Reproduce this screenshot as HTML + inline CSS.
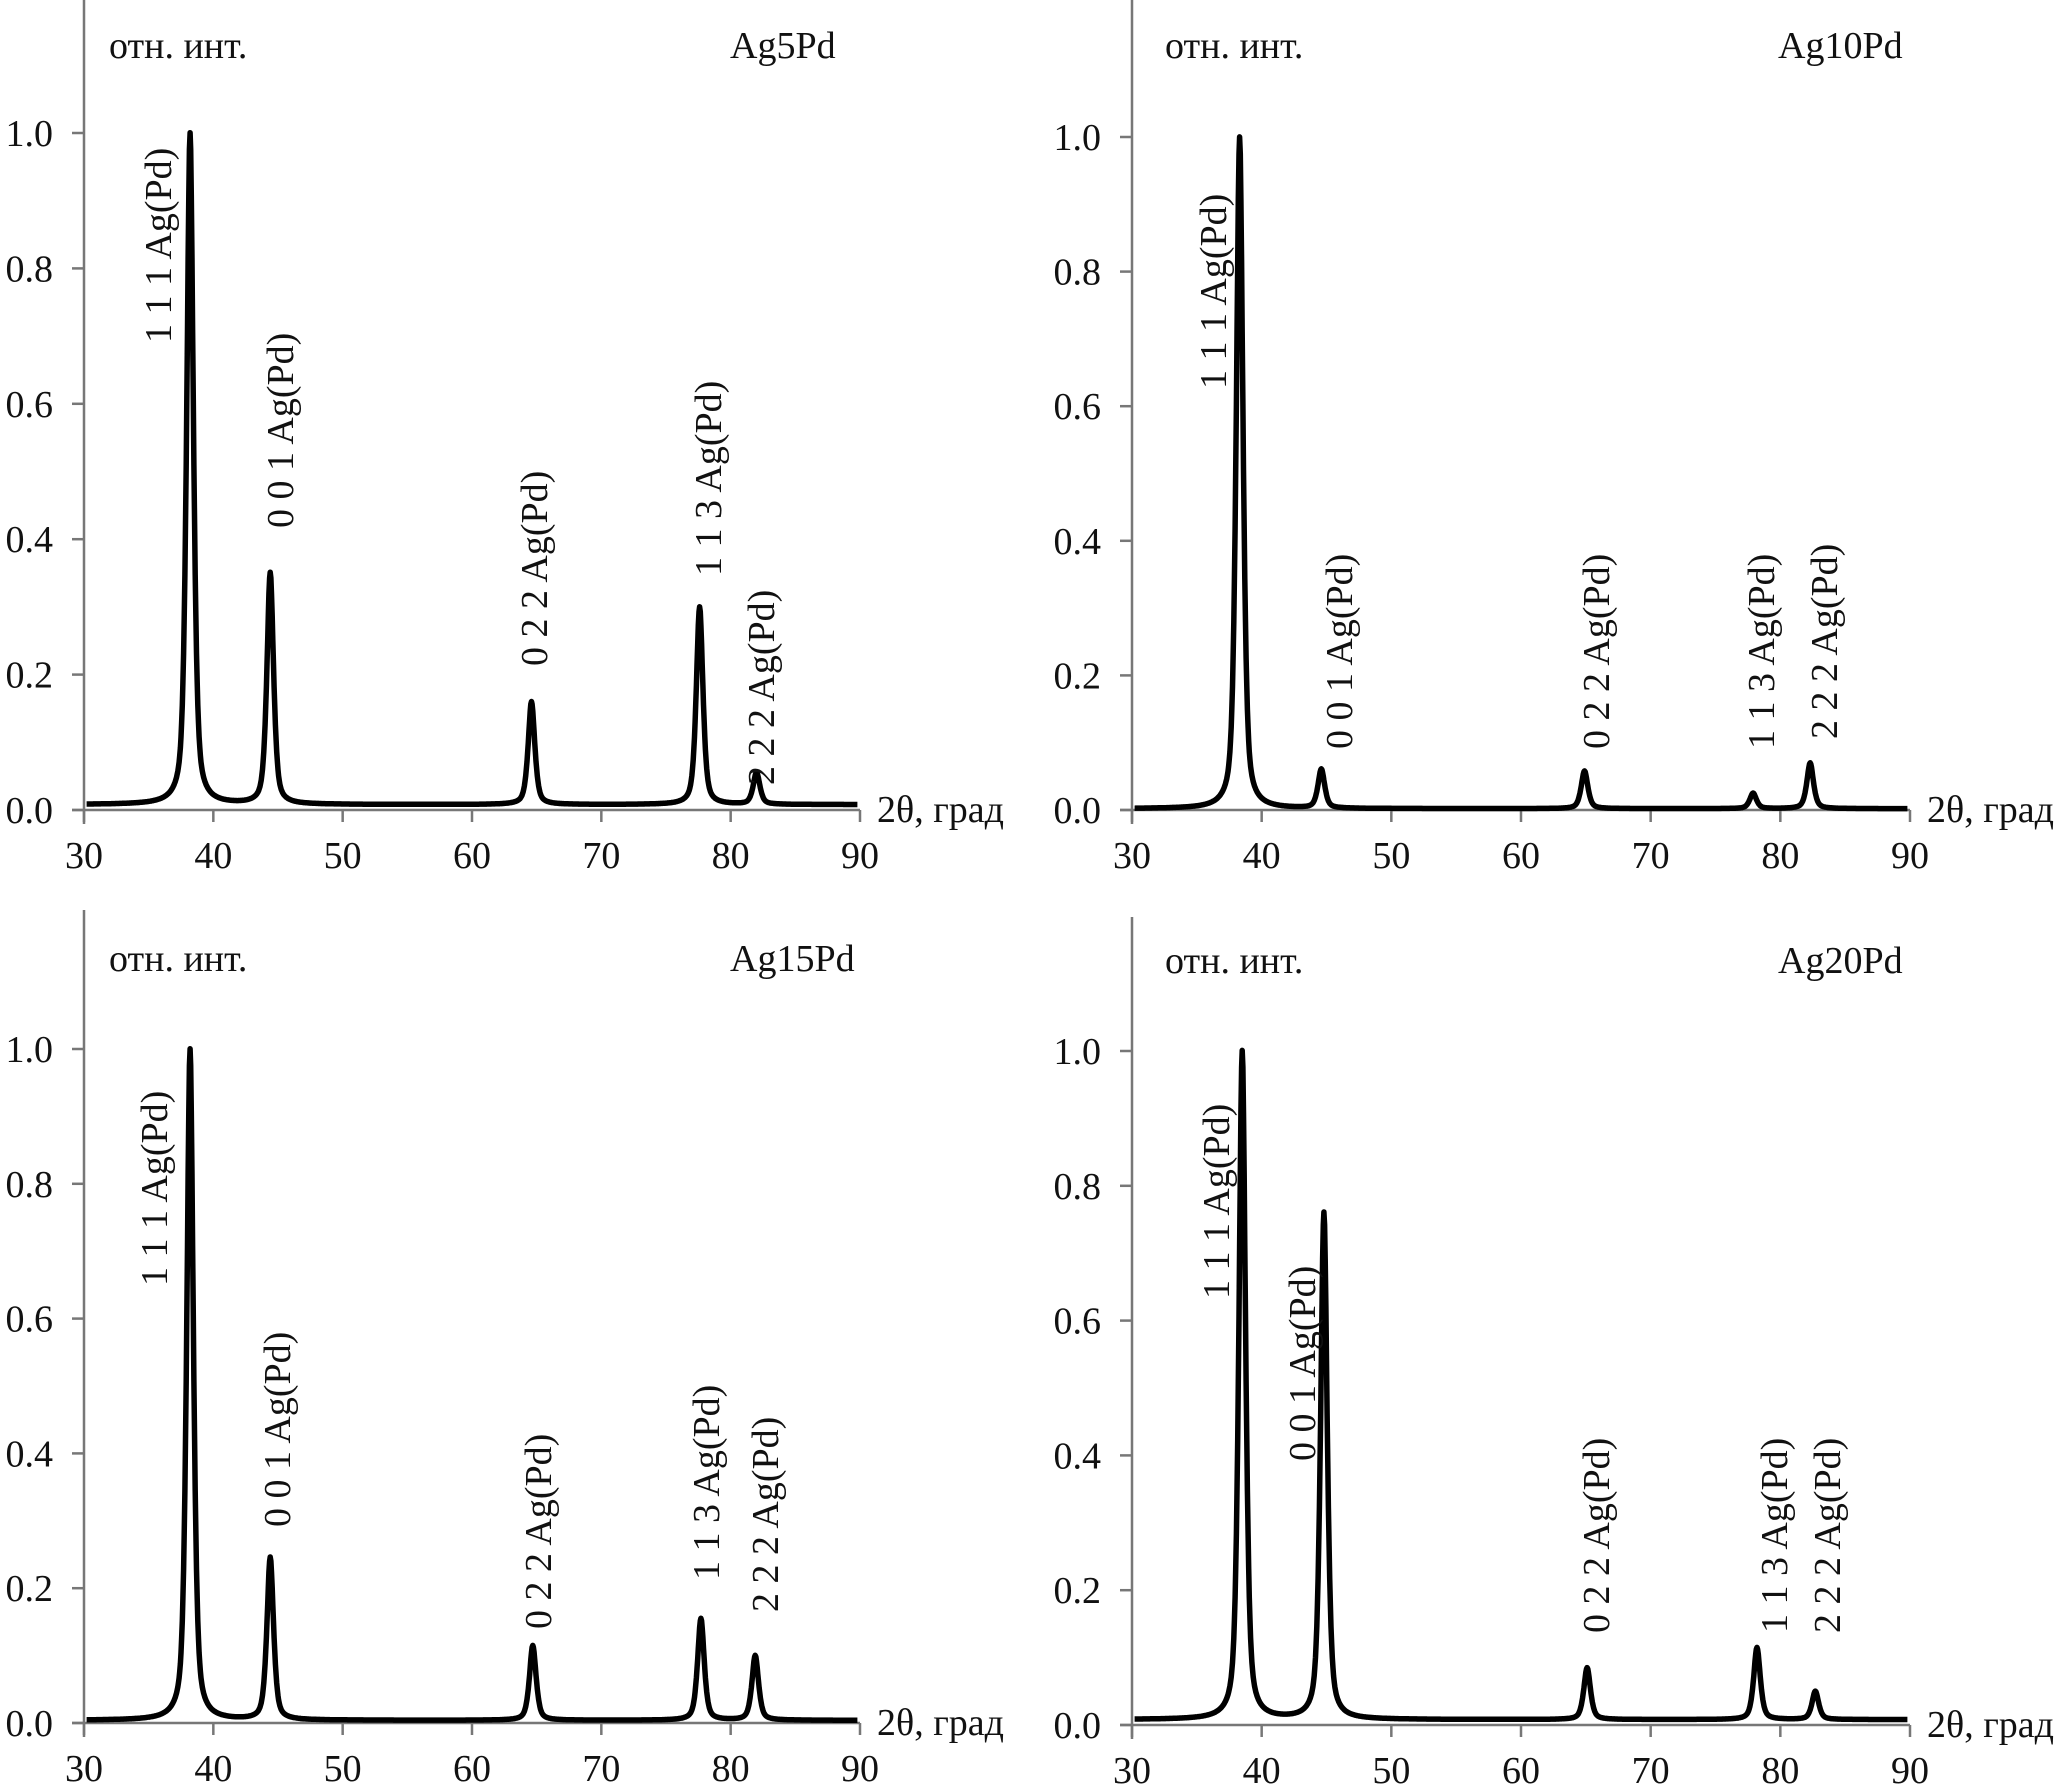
<!DOCTYPE html>
<html><head><meta charset="utf-8"><style>
html,body{margin:0;padding:0;background:#fff;}
svg{display:block;font-family:"Liberation Serif",serif;}
</style></head><body>
<svg id="fig" width="2068" height="1791" viewBox="0 0 2068 1791"></svg>
<script>
// ---- data ----
const xTicks = [30,40,50,60,70,80,90];
const yTicks = [0.0,0.2,0.4,0.6,0.8,1.0];
const yTickLabels = ["0.0","0.2","0.4","0.6","0.8","1.0"];
const panelTitles = ["Ag5Pd","Ag10Pd","Ag15Pd","Ag20Pd"];
const peakLabels = ["1 1 1 Ag(Pd)","0 0 1 Ag(Pd)","0 2 2 Ag(Pd)","1 1 3 Ag(Pd)","2 2 2 Ag(Pd)"];
const peakPosAg5 = [38.2,44.4,64.6,77.6,82.0];
const peakHtAg5 = [1.0,0.35,0.16,0.30,0.055];
const peakPosAg10 = [38.3,44.6,64.9,77.9,82.3];
const peakHtAg10 = [1.0,0.06,0.058,0.025,0.07];
const peakPosAg15 = [38.2,44.4,64.7,77.7,81.9];
const peakHtAg15 = [1.0,0.245,0.115,0.155,0.10];
const peakPosAg20 = [38.5,44.8,65.1,78.2,82.7];
const peakHtAg20 = [1.0,0.76,0.085,0.115,0.05];
const baseAg5 = 0.008, baseAg10 = 0.002, baseAg15 = 0.004, baseAg20 = 0.008;

// ---- layout ----
const panels = [
 {x0:84,x1:860,y0:810,y1:133,top:0,pos:peakPosAg5,ht:peakHtAg5,base:baseAg5,
  lab:[[158,343],[280,528],[534,666],[708,576],[761,785]],ttl:[109,46,730]},
 {x0:1132,x1:1910,y0:810,y1:137,top:0,pos:peakPosAg10,ht:peakHtAg10,base:baseAg10,
  lab:[[1213,389],[1339,749],[1596,749],[1761,749],[1824,739]],ttl:[1165,46,1778]},
 {x0:84,x1:860,y0:1723,y1:1049,top:910,pos:peakPosAg15,ht:peakHtAg15,base:baseAg15,
  lab:[[154,1286],[277,1527],[538,1629],[706,1580],[765,1612]],ttl:[109,959,730]},
 {x0:1132,x1:1910,y0:1725,y1:1051,top:917,pos:peakPosAg20,ht:peakHtAg20,base:baseAg20,
  lab:[[1216,1299],[1302,1461],[1596,1633],[1774,1633],[1827,1633]],ttl:[1165,961,1778]}
];
const NS="http://www.w3.org/2000/svg";
const svg=document.getElementById('fig');
function mk(tag,attrs,parent){const e=document.createElementNS(NS,tag);for(const k in attrs)e.setAttribute(k,attrs[k]);(parent||svg).appendChild(e);return e;}
const FS=38;

panels.forEach((p,i)=>{
 const g=mk('g',{});
 
 
 const sx=v=>p.x0+(v-30)/60*(p.x1-p.x0);
 const sy=v=>p.y0+v*(p.y1-p.y0);
 const ya=mk('line',{x1:p.x0,y1:p.top,x2:p.x0,y2:p.y0+14,stroke:'#777','stroke-width':2.5},g);
 
 
 const xa=mk('line',{x1:p.x0-12,y1:p.y0,x2:p.x1,y2:p.y0,stroke:'#777','stroke-width':2.5},g);
 
 
 xTicks.forEach(t=>{
  mk('line',{x1:sx(t),y1:p.y0,x2:sx(t),y2:p.y0+12,stroke:'#777','stroke-width':2.5},g);
  const tx=mk('text',{x:sx(t),y:p.y0+58,'font-size':FS,'text-anchor':'middle',fill:'#111'},g);
  tx.textContent=t;
  
  
 });
 yTicks.forEach((t,j)=>{
  mk('line',{x1:p.x0-12,y1:sy(t),x2:p.x0,y2:sy(t),stroke:'#777','stroke-width':2.5},g);
  const tx=mk('text',{x:p.x0-31,y:sy(t)+13,'font-size':FS,'text-anchor':'end',fill:'#111'},g);
  tx.textContent=yTickLabels[j];
  
  
 });
 let d='';
 for(let x=30.2;x<=89.8;x+=0.05){
  let y=p.base;
  p.pos.forEach((c,k)=>{const w=0.28;const dx=x-c;y+=(p.ht[k]-p.base)*(0.6*w*w/(dx*dx+w*w)+0.4*Math.exp(-dx*dx/(2*w*w)));});
  d+=(d?'L':'M')+sx(x).toFixed(1)+','+sy(y).toFixed(1);
 }
 const path=mk('path',{d:d,fill:'none',stroke:'#000','stroke-width':5.5,'stroke-linejoin':'round'},g);
 
 
 p.lab.forEach((L,k)=>{
  const t=mk('text',{x:0,y:0,'font-size':FS,fill:'#111',transform:`translate(${L[0]+13},${L[1]}) rotate(-90)`},g);
  t.textContent=peakLabels[k];
  
  
 });
 const yt=mk('text',{x:p.ttl[0],y:p.ttl[1]+12,'font-size':FS,fill:'#111'},g);
 yt.textContent='отн. инт.';
 
 
 const tt=mk('text',{x:p.ttl[2],y:p.ttl[1]+12,'font-size':FS,fill:'#111'},g);
 tt.textContent=panelTitles[i];
 
 
 const xt=mk('text',{x:p.x1+17,y:p.y0+12,'font-size':FS,fill:'#111'},g);
 xt.textContent='2θ, град';
 
 
});
</script>
</body></html>
